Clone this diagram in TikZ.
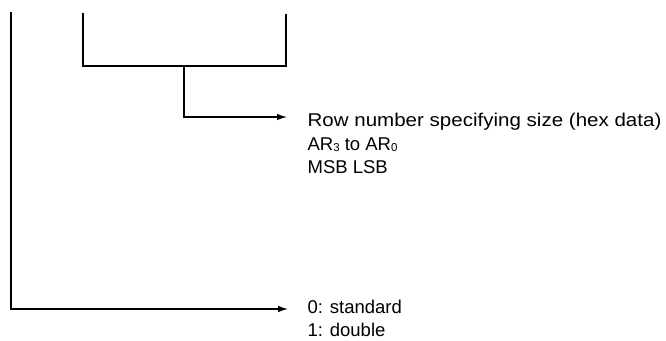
\documentclass[tikz,border=0pt]{standalone}
\usepackage{fontspec}
\setmainfont{Liberation Sans}
\newfontfamily\widefont[FakeStretch=1.11]{Liberation Sans}
\usetikzlibrary{arrows.meta}
\newcommand{\smallsub}[1]{\raisebox{-1pt}{\fontsize{11.5}{12}\selectfont #1}}
\begin{document}
\begin{tikzpicture}[x=1pt,y=-1pt, line width=1.2pt,
  lbl/.style={anchor=base west, inner sep=0pt, font=\fontsize{18.5}{22}\selectfont},
  arr/.style={-{Latex[length=10pt,width=6.5pt]}}]
\useasboundingbox (0,0) rectangle (666,340);
% text labels
\node[lbl, font=\widefont\fontsize{18.5}{22}\selectfont] (row) at (307,126) {Row number specifying size (hex data)};
\node[lbl] (ar)  at (307,150) {AR\smallsub{3} to AR\smallsub{0}};
\node[lbl] (msb) at (307,173) {MSB LSB};
\node[lbl] (std) at (307,313) {0: standard};
\node[lbl] (dbl) at (307,336) {1: double};
% bracket
\coordinate (bl) at (83,13);
\coordinate (br) at (286,14);
\coordinate (bm) at (184,66);
\coordinate (rowtip) at (287,117);
\coordinate (lt) at (11,12);
\coordinate (stdtip) at (288,309);
\draw (bl) |- (bm) -| (br);
\draw[arr] (bm) |- (rowtip);
\draw[arr] (lt) |- (stdtip);
\end{tikzpicture}
\end{document}
